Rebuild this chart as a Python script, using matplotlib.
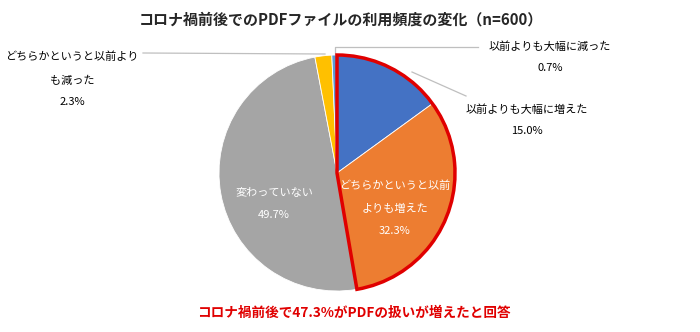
import matplotlib.pyplot as plt
from matplotlib.patches import Wedge

plt.rcParams['font.family'] = ['Noto Sans CJK JP', 'DejaVu Sans']

# data
labels = ['以前よりも大幅に増えた', 'どちらかというと以前よりも増えた', '変わっていない',
          'どちらかというと以前よりも減った', '以前よりも大幅に減った']
shares = [15.0, 32.3, 49.7, 2.3, 0.7]
colors = ['#4472C4', '#ED7D31', '#A5A5A5', '#FFC000', '#5B9BD5']
title = 'コロナ禍前後でのPDFファイルの利用頻度の変化（n=600）'
note = 'コロナ禍前後で47.3%がPDFの扱いが増えたと回答'

H = 332
cx, cy, r = 337, H - 173, 118


def py(y):
    # pixel row -> data y
    return H - y


fig = plt.figure(figsize=(7, 3.32), dpi=100)
ax = fig.add_axes([0, 0, 1, 1])

ax.pie(shares, colors=colors, startangle=90, counterclock=False,
       center=(cx, cy), radius=r, frame=True,
       wedgeprops=dict(edgecolor='white', linewidth=0.6))
ax.set_xlim(0, 700)
ax.set_ylim(0, H)
ax.set_aspect('equal')
ax.axis('off')

# red outline around the "increased" part
inc = shares[0] + shares[1]
ax.add_patch(Wedge((cx, cy), r, 90 - inc * 3.6, 90, fill=False,
                   edgecolor='#E00000', linewidth=2.5, zorder=5))

lc = '#BFBFBF'
# leader lines
ax.plot([335, 335, 478], [py(55), py(47), py(47)], color=lc, lw=0.9)
ax.plot([412, 466], [py(72), py(96)], color=lc, lw=0.9)
ax.plot([143, 325], [py(53), py(54)], color=lc, lw=0.9)

fs = 8
ax.text(550, py(47), '以前よりも大幅に減った', ha='center', va='center', fontsize=fs)
ax.text(550, py(68), f'{shares[4]:.1f}%', ha='center', va='center', fontsize=fs)
ax.text(527, py(110), '以前よりも大幅に増えた', ha='center', va='center', fontsize=fs)
ax.text(527, py(131), f'{shares[0]:.1f}%', ha='center', va='center', fontsize=fs)
ax.text(72, py(57), 'どちらかというと以前より', ha='center', va='center', fontsize=fs)
ax.text(72, py(81), 'も減った', ha='center', va='center', fontsize=fs)
ax.text(72, py(102), f'{shares[3]:.1f}%', ha='center', va='center', fontsize=fs)

ax.text(274, py(193), '変わっていない', ha='center', va='center', fontsize=fs, color='white')
ax.text(274, py(215), f'{shares[2]:.1f}%', ha='center', va='center', fontsize=fs, color='white')
ax.text(395, py(186), 'どちらかというと以前', ha='center', va='center', fontsize=fs, color='white')
ax.text(395, py(209), 'よりも増えた', ha='center', va='center', fontsize=fs, color='white')
ax.text(395, py(231), f'{shares[1]:.1f}%', ha='center', va='center', fontsize=fs, color='white')

ax.text(341, py(20), title, ha='center', va='center', fontsize=10.8, fontweight='bold',
        color='#262626')
ax.text(354, py(313), note, ha='center', va='center', fontsize=9.8, fontweight='bold',
        color='#E00000')

fig.savefig('out.png', dpi=100, facecolor='white')
